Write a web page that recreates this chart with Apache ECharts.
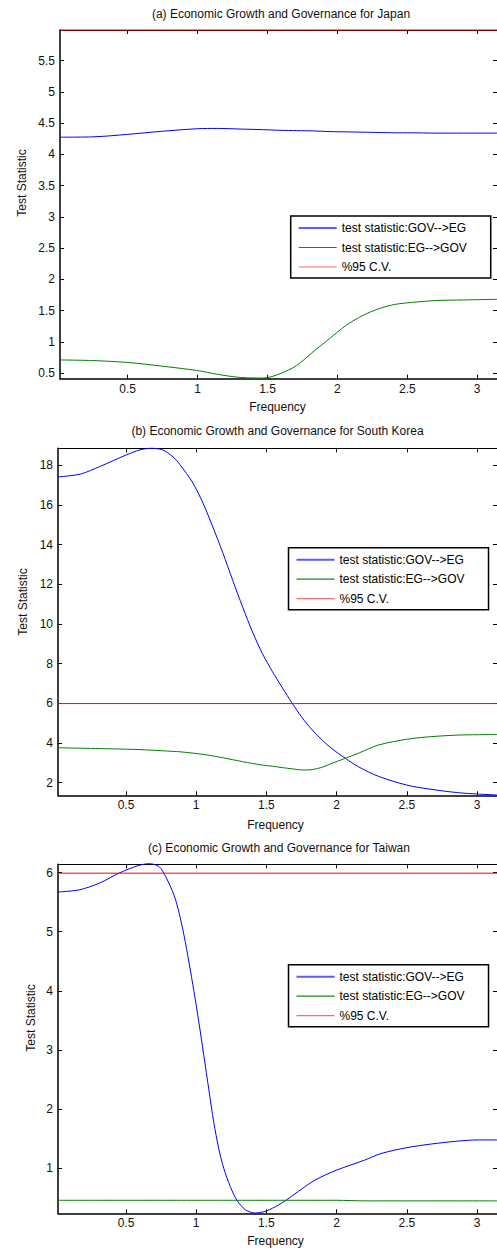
<!DOCTYPE html>
<html><head><meta charset="utf-8">
<script src="https://cdn.jsdelivr.net/npm/echarts@6/dist/echarts.min.js"></script>
<style>html,body{margin:0;padding:0;background:#fff}#c{width:497px;height:1249px}</style>
</head><body><div id="c"></div>
<script>
// ---------- data ----------
const panelTitles = [
  '(a) Economic Growth and Governance for Japan',
  '(b) Economic Growth and Governance for South Korea',
  '(c) Economic Growth and Governance for Taiwan'
];
const seriesNames = ['test statistic:GOV-->EG', 'test statistic:EG-->GOV', '%95 C.V.'];
const xAxisTitle = 'Frequency';
const yAxisTitle = 'Test Statistic';
const freqMin = 0.016;
const freqMax = 3.1416;
const xTickValues = [0.5, 1, 1.5, 2, 2.5, 3];
const criticalValue95 = 5.99;

const japanFreq = [0.016, 0.25, 0.5, 0.75, 1.0, 1.142, 1.306, 1.472, 1.59, 1.708, 1.826, 1.943, 2.06, 2.18, 2.297, 2.415, 2.53, 2.7, 2.9, 3.1416];
const japanGovToEg = [4.275, 4.28, 4.32, 4.37, 4.41, 4.415, 4.405, 4.395, 4.385, 4.38, 4.375, 4.365, 4.36, 4.355, 4.35, 4.345, 4.345, 4.34, 4.34, 4.34];
const japanEgToGov = [0.71, 0.70, 0.67, 0.61, 0.54, 0.48, 0.43, 0.42, 0.49, 0.62, 0.84, 1.05, 1.26, 1.42, 1.53, 1.60, 1.63, 1.66, 1.67, 1.68];
const japanYTicks = [0.5, 1, 1.5, 2, 2.5, 3, 3.5, 4, 4.5, 5, 5.5];
const japanYRange = [0.41, 5.99];

const koreaFreq = [0.016, 0.175, 0.32, 0.5, 0.6, 0.68, 0.76, 0.835, 0.883, 0.977, 1.048, 1.118, 1.189, 1.26, 1.331, 1.401, 1.472, 1.543, 1.614, 1.684, 1.755, 1.826, 1.897, 1.967, 2.062, 2.156, 2.298, 2.5, 2.67, 2.86, 3.0, 3.1416];
const koreaGovToEg = [17.42, 17.56, 17.96, 18.52, 18.78, 18.86, 18.78, 18.43, 18.05, 17.1, 16.1, 14.9, 13.6, 12.2, 10.85, 9.6, 8.5, 7.6, 6.78, 6.0, 5.27, 4.66, 4.15, 3.71, 3.23, 2.80, 2.32, 1.88, 1.67, 1.50, 1.43, 1.38];
const koreaEgToGov = [3.76, 3.74, 3.72, 3.69, 3.67, 3.64, 3.61, 3.58, 3.56, 3.49, 3.43, 3.35, 3.26, 3.16, 3.06, 2.97, 2.89, 2.83, 2.76, 2.70, 2.64, 2.66, 2.78, 2.98, 3.23, 3.49, 3.9, 4.19, 4.32, 4.40, 4.42, 4.43];
const koreaYTicks = [2, 4, 6, 8, 10, 12, 14, 16, 18];
const koreaYRange = [1.365, 18.86];

const taiwanFreq = [0.016, 0.17, 0.31, 0.45, 0.59, 0.665, 0.736, 0.783, 0.842, 0.878, 0.913, 0.948, 0.984, 1.019, 1.054, 1.09, 1.125, 1.16, 1.196, 1.243, 1.29, 1.35, 1.42, 1.5, 1.585, 1.633, 1.727, 1.845, 2.0, 2.2, 2.316, 2.5, 2.67, 2.86, 3.0, 3.1416];
const taiwanGovToEg = [5.67, 5.71, 5.82, 5.99, 6.12, 6.15, 6.10, 5.93, 5.62, 5.32, 4.94, 4.49, 3.99, 3.47, 2.91, 2.33, 1.78, 1.34, 1.0, 0.69, 0.46, 0.30, 0.245, 0.28, 0.38, 0.45, 0.61, 0.80, 0.97, 1.14, 1.25, 1.35, 1.41, 1.46, 1.48, 1.48];
const taiwanEgToGov = [0.46, 0.46, 0.46, 0.46, 0.46, 0.46, 0.46, 0.46, 0.46, 0.46, 0.46, 0.46, 0.46, 0.46, 0.46, 0.46, 0.46, 0.46, 0.46, 0.46, 0.46, 0.46, 0.46, 0.46, 0.46, 0.46, 0.46, 0.46, 0.46, 0.45, 0.45, 0.45, 0.45, 0.45, 0.45, 0.45];
const taiwanYTicks = [1, 2, 3, 4, 5, 6];
const taiwanYRange = [0.24, 6.14];

// ---------- layout / style ----------
const FONT = '"Liberation Sans", Arial, Helvetica, sans-serif';
const TXT = '#111';
const COLORS = ['#0000ff', '#008000', '#ff0000'];
const panels = [
  { freq: japanFreq, s1: japanGovToEg, s2: japanEgToGov, yTicks: japanYTicks, yRange: japanYRange,
    grid: { left: 60, top: 30, width: 441.6, height: 348.7 },
    legend: { left: 290.7, top: 216 },
    title: [281, 14], xname: [277.5, 407], yname: [21.7, 183] },
  { freq: koreaFreq, s1: koreaGovToEg, s2: koreaEgToGov, yTicks: koreaYTicks, yRange: koreaYRange,
    grid: { left: 58, top: 448.3, width: 441.6, height: 347 },
    legend: { left: 288.5, top: 547.7 },
    title: [277.5, 430.7], xname: [275.5, 824.5], yname: [23.3, 602] },
  { freq: taiwanFreq, s1: taiwanGovToEg, s2: taiwanEgToGov, yTicks: taiwanYTicks, yRange: taiwanYRange,
    grid: { left: 58, top: 864.3, width: 441.6, height: 349 },
    legend: { left: 288.5, top: 964.7 },
    title: [279, 848.3], xname: [275.5, 1240.7], yname: [31, 1018] }
];

// legend icons: a horizontal bar centred in a 38x14 box (degenerate corner points fix the box)
const iconThick = 'path://M0,0L0,0ZM0,6H38V8H0ZM38,14L38,14Z';
const iconThin = 'path://M0,0L0,0ZM0,6.4H38V7.6H0ZM38,14L38,14Z';

const grid = [], xAxis = [], yAxis = [], series = [], legend = [], graphic = [];
panels.forEach((p, i) => {
  grid.push(Object.assign({ containLabel: false }, p.grid));
  const tickBase = { inside: true, length: 4, lineStyle: { color: '#000', width: 1 } };
  xAxis.push({
    gridIndex: i, type: 'value', min: freqMin, max: freqMax, position: 'bottom',
    axisLine: { show: true, onZero: false, lineStyle: { color: '#000', width: 1.5 } },
    axisTick: Object.assign({ customValues: xTickValues }, tickBase),
    axisLabel: { customValues: xTickValues, margin: 4, color: TXT, fontSize: 12, fontFamily: FONT },
    splitLine: { show: false }
  });
  xAxis.push({
    gridIndex: i, type: 'value', min: freqMin, max: freqMax, position: 'top',
    axisLine: { show: true, onZero: false, lineStyle: { color: '#000', width: 1 } },
    axisTick: Object.assign({ customValues: xTickValues }, tickBase),
    axisLabel: { show: false }, splitLine: { show: false }
  });
  yAxis.push({
    gridIndex: i, type: 'value', min: p.yRange[0], max: p.yRange[1], position: 'left',
    axisLine: { show: true, onZero: false, lineStyle: { color: '#000', width: 1.5 } },
    axisTick: Object.assign({ customValues: p.yTicks }, tickBase),
    axisLabel: { customValues: p.yTicks, margin: 5, color: TXT, fontSize: 12, fontFamily: FONT },
    splitLine: { show: false }
  });
  yAxis.push({
    gridIndex: i, type: 'value', min: p.yRange[0], max: p.yRange[1], position: 'right',
    axisLine: { show: true, onZero: false, lineStyle: { color: '#000', width: 1 } },
    axisTick: Object.assign({ customValues: p.yTicks }, tickBase),
    axisLabel: { show: false }, splitLine: { show: false }
  });
  const curves = [p.s1, p.s2];
  curves.forEach((vals, k) => {
    series.push({
      type: 'line', name: seriesNames[k], xAxisIndex: 2 * i, yAxisIndex: 2 * i,
      data: p.freq.map((f, j) => [f, vals[j]]),
      symbol: 'none', smooth: 0.3, clip: false,
      lineStyle: { color: COLORS[k], width: 1 }, itemStyle: { color: COLORS[k] },
      silent: true, z: 3
    });
  });
  series.push({
    type: 'line', name: seriesNames[2], xAxisIndex: 2 * i, yAxisIndex: 2 * i,
    data: [[freqMin, criticalValue95], [freqMax, criticalValue95]],
    symbol: 'none', clip: false,
    lineStyle: { color: COLORS[2], width: 1 }, itemStyle: { color: COLORS[2] },
    silent: true, z: 4
  });
  legend.push({
    orient: 'vertical', left: p.legend.left, top: p.legend.top,
    itemWidth: 38, itemHeight: 14, itemGap: 5.5,
    padding: [5, 24, 4, 8],
    borderColor: '#000', borderWidth: 1.5, backgroundColor: '#fff',
    selectedMode: false,
    textStyle: { fontSize: 12, color: '#000', fontFamily: FONT, lineHeight: 14 },
    data: [
      { name: seriesNames[0], icon: iconThick, itemStyle: { color: '#5a5aff' } },
      { name: seriesNames[1], icon: iconThin, itemStyle: { color: '#158a15' } },
      { name: seriesNames[2], icon: iconThin, itemStyle: { color: '#ff6a6a' } }
    ]
  });
  graphic.push({ type: 'text', x: p.title[0], y: p.title[1], silent: true,
    style: { text: panelTitles[i], font: '12px ' + FONT, fill: TXT, textAlign: 'center', textVerticalAlign: 'middle' } });
  graphic.push({ type: 'text', x: p.xname[0], y: p.xname[1], silent: true,
    style: { text: xAxisTitle, font: '12px ' + FONT, fill: TXT, textAlign: 'center', textVerticalAlign: 'middle' } });
  graphic.push({ type: 'text', x: p.yname[0], y: p.yname[1], rotation: Math.PI / 2, silent: true,
    style: { text: yAxisTitle, font: '12px ' + FONT, fill: TXT, textAlign: 'center', textVerticalAlign: 'middle' } });
});

const chart = echarts.init(document.getElementById('c'), null, { renderer: 'svg' });
chart.setOption({
  animation: false,
  backgroundColor: '#fff',
  textStyle: { fontFamily: FONT },
  grid, xAxis, yAxis, series, legend, graphic
});
</script>
</body></html>
